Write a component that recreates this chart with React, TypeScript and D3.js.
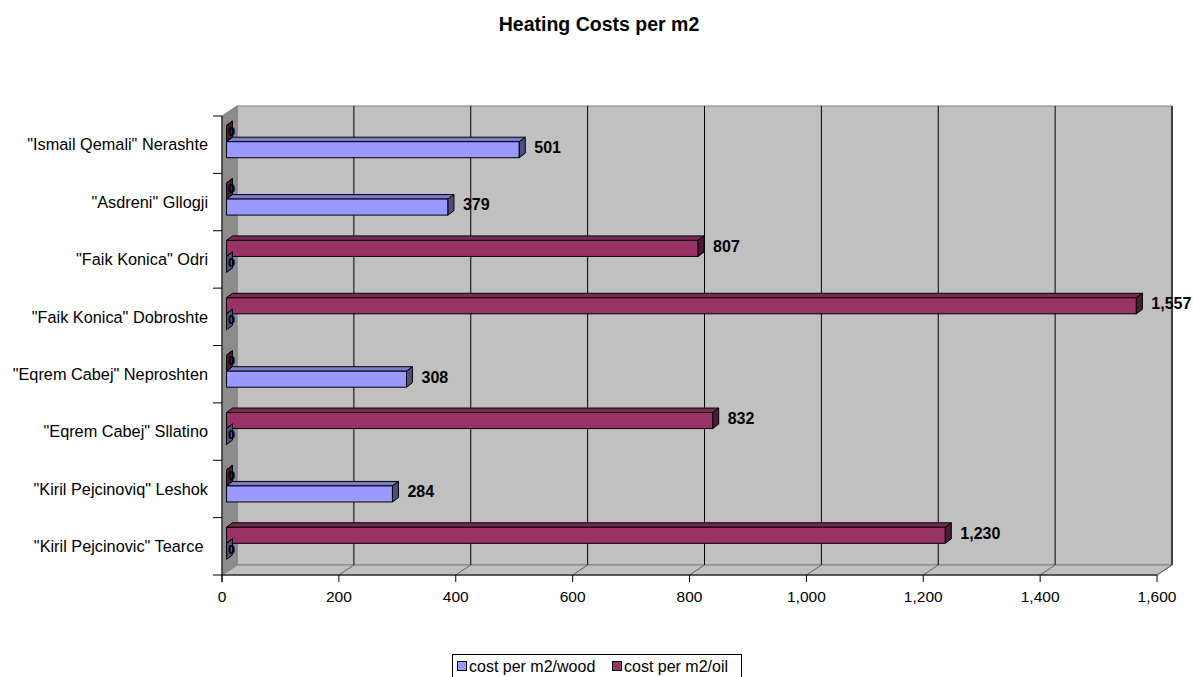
import React from 'react';
import * as d3 from 'd3';

const categories = [
  '"Ismail Qemali" Nerashte',
  '"Asdreni" Gllogji',
  '"Faik Konica" Odri',
  '"Faik Konica" Dobroshte',
  '"Eqrem Cabej" Neproshten',
  '"Eqrem Cabej" Sllatino',
  '"Kiril Pejcinoviq" Leshok',
  '"Kiril Pejcinovic" Tearce ',
];
const woodValues = [501, 379, 0, 0, 308, 0, 284, 0];
const oilValues = [0, 0, 807, 1557, 0, 832, 0, 1230];
const xTicks = [0, 200, 400, 600, 800, 1000, 1200, 1400, 1600];
const seriesNames = ['cost per m2/wood', 'cost per m2/oil'];

const W = 1193;
const H = 677;
const font = '"Liberation Sans", Arial, sans-serif';

// front plane of the 3d box
const left = 222;
const right = 1157;
const top = 116;
const bottom = 575;
// wall depth
const dx = 15;
const dy = -10;
// bars sit a bit into the box
const barOff = [4.5, -3];
const barDepth = [6, -4.5];

const colors = {
  wood: { front: '#9999ff', top: '#7b7bd0', side: '#4d4d80' },
  oil: { front: '#993366', top: '#7a2952', side: '#4c1a33' },
};

const App = () => {
  const x = d3.scaleLinear().domain([0, 1600]).range([left, right]);
  const y = d3.scaleBand().domain(categories).range([top, bottom]);
  const inner = d3.scaleBand().domain(['oil', 'wood']).range([0, y.bandwidth()]).paddingOuter(0.79);
  const fmt = d3.format(',');

  const bars = categories.flatMap((c, i) => [
    { cat: c, key: 'oil', value: oilValues[i] },
    { cat: c, key: 'wood', value: woodValues[i] },
  ]);

  const pts = (arr) => arr.map(p => p.join(',')).join(' ');

  return (
    <div style={{ position: 'absolute', left: 0, top: 0 }}>
      <svg width={W} height={H} style={{ display: 'block', fontFamily: font }}>
        <rect width={W} height={H} fill="#fff" />
        <text x={599} y={31} textAnchor="middle" fontSize={19.5} fontWeight="bold">Heating Costs per m2</text>

        {/* back wall */}
        <rect x={left + dx} y={top + dy} width={right - left} height={bottom - top} fill="#c0c0c0" stroke="#808080" strokeWidth={1} />
        {/* floor */}
        <polygon points={pts([[left, bottom], [left + dx, bottom + dy], [right + dx, bottom + dy], [right, bottom]])} fill="#c0c0c0" stroke="#808080" strokeWidth={1} />
        {/* left wall */}
        <polygon points={pts([[left, top], [left + dx, top + dy], [left + dx, bottom + dy], [left, bottom]])} fill="#8c8c8c" stroke="#808080" strokeWidth={1} />
        <line x1={right + dx} x2={right + dx} y1={top + dy} y2={bottom + dy} stroke="#808080" strokeWidth={2} />

        {/* gridlines */}
        {xTicks.slice(1).map(t => (
          <g key={t}>
            <line x1={x(t) + dx} x2={x(t) + dx} y1={top + dy} y2={bottom + dy} stroke="#000" strokeWidth={1} />
            <line x1={x(t) + dx} x2={x(t)} y1={bottom + dy} y2={bottom} stroke="#606060" strokeWidth={1} />
          </g>
        ))}

        {/* bars */}
        {bars.map((b, i) => {
          const c = colors[b.key];
          const x0 = x(0) + barOff[0];
          const x1 = x(b.value) + barOff[0];
          const y0 = y(b.cat) + inner(b.key) + barOff[1];
          const y1 = y0 + inner.bandwidth();
          const [bx, by] = barDepth;
          const labelX = b.value === 0 ? x1 + 5 : x1 + bx + 9;
          return (
            <g key={i} stroke="#000" strokeWidth={1} strokeLinejoin="round">
              <polygon points={pts([[x0, y0], [x0 + bx, y0 + by], [x1 + bx, y0 + by], [x1, y0]])} fill={c.top} />
              <rect x={x0} y={y0} width={x1 - x0} height={y1 - y0} fill={c.front} />
              <polygon points={pts([[x1, y0], [x1 + bx, y0 + by], [x1 + bx, y1 + by], [x1, y1]])} fill={c.side} />
              <text x={labelX} y={(y0 + y1 + by) / 2} dy="0.35em" stroke="none" fill="#000"
                fontSize={b.value === 0 ? 13 : 16} fontWeight="bold" textAnchor={b.value === 0 ? 'middle' : 'start'}>
                {fmt(b.value)}
              </text>
            </g>
          );
        })}

        {/* x axis */}
        <line x1={left} x2={right} y1={bottom} y2={bottom} stroke="#000" />
        {xTicks.map(t => (
          <g key={t}>
            <line x1={x(t)} x2={x(t)} y1={bottom} y2={bottom + 7} stroke="#000" />
            <text x={x(t)} y={bottom + 27} textAnchor="middle" fontSize={15.5}>{fmt(t)}</text>
          </g>
        ))}

        {/* y axis */}
        <line x1={left} x2={left} y1={top} y2={bottom + 7} stroke="#000" />
        {categories.map(c => (
          <g key={c}>
            <line x1={left - 9} x2={left} y1={y(c)} y2={y(c)} stroke="#000" />
            <text x={left - 14} y={y(c) + y.bandwidth() / 2} dy="0.35em" textAnchor="end" fontSize={16.3}
              style={{ whiteSpace: 'pre' }}>{c}</text>
          </g>
        ))}
        <line x1={left - 9} x2={left} y1={bottom} y2={bottom} stroke="#000" />

        {/* legend */}
        <g>
          <rect x={452.5} y={654.5} width={289} height={24} fill="#fff" stroke="#000" />
          <rect x={457.5} y={661.5} width={9} height={9} fill={colors.wood.front} stroke="#000" />
          <text x={469} y={672} fontSize={16}>{seriesNames[0]}</text>
          <rect x={612.5} y={661.5} width={9} height={9} fill={colors.oil.front} stroke="#000" />
          <text x={624} y={672} fontSize={16}>{seriesNames[1]}</text>
        </g>
      </svg>
    </div>
  );
};

export default App;
